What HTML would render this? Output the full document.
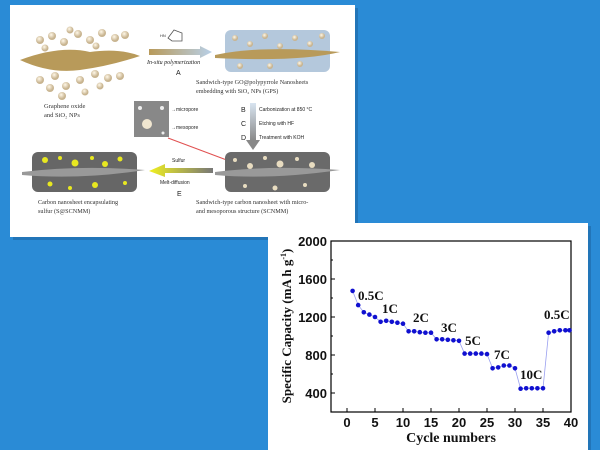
<!DOCTYPE html>
<html><head><meta charset="utf-8"><style>
body{margin:0;width:600px;height:450px;overflow:hidden;background:#2a8bd6}
svg{display:block}
</style></head><body>
<svg width="600" height="450" viewBox="0 0 600 450" xmlns="http://www.w3.org/2000/svg">
<defs>
<linearGradient id="ga" x1="0" x2="1"><stop offset="0" stop-color="#b89a5a"/><stop offset="1" stop-color="#b8d0e8"/></linearGradient>
<linearGradient id="gy" x1="1" x2="0"><stop offset="0" stop-color="#777"/><stop offset="1" stop-color="#f0f020"/></linearGradient>
<linearGradient id="gd" x1="0" y1="0" x2="0" y2="1"><stop offset="0" stop-color="#d8e4f0"/><stop offset="1" stop-color="#888"/></linearGradient>
<radialGradient id="sp" cx="0.4" cy="0.35"><stop offset="0" stop-color="#fff8e8"/><stop offset="1" stop-color="#c8b490"/></radialGradient>
</defs>
<rect x="13" y="8" width="345" height="232" fill="#1a5f99" opacity="0.5"/>
<rect x="10" y="5" width="345" height="232" fill="#fff"/>
<path d="M20 60 Q60 45 90 52 Q120 48 140 56 Q110 66 80 70 Q50 74 20 60Z" fill="#b89a5a"/>
<g fill="url(#sp)">
<circle cx="40" cy="40" r="4"/><circle cx="52" cy="36" r="4"/><circle cx="64" cy="42" r="4"/><circle cx="78" cy="34" r="4"/><circle cx="90" cy="40" r="4"/><circle cx="102" cy="33" r="4"/><circle cx="115" cy="38" r="4"/><circle cx="125" cy="35" r="4"/><circle cx="70" cy="30" r="3.5"/><circle cx="96" cy="46" r="3.5"/><circle cx="45" cy="48" r="3.5"/>
<circle cx="40" cy="80" r="4"/><circle cx="55" cy="76" r="4"/><circle cx="66" cy="86" r="4"/><circle cx="80" cy="80" r="4"/><circle cx="95" cy="74" r="4"/><circle cx="108" cy="78" r="4"/><circle cx="120" cy="76" r="4"/><circle cx="50" cy="88" r="4"/><circle cx="85" cy="92" r="3.5"/><circle cx="100" cy="86" r="3.5"/><circle cx="62" cy="96" r="4"/>
</g>
<text x="44" y="108" font-family="Liberation Serif" font-size="6.5" fill="#333">Graphene oxide</text>
<text x="44" y="117" font-family="Liberation Serif" font-size="6.5" fill="#333">and SiO₂ NPs</text>
<polygon points="149,49 200,49 200,46 212,52 200,58 200,55 149,55" fill="url(#ga)"/>
<path d="M168 38 l6-8 l8 3 l0 8 l-10 0z" fill="none" stroke="#555" stroke-width="0.8"/>
<text x="160" y="37" font-family="Liberation Sans" font-size="4" fill="#333">HN</text>
<text x="147" y="64" font-family="Liberation Serif" font-size="6" font-style="italic" fill="#222">In-situ polymerization</text>
<text x="176" y="75" font-family="Liberation Sans" font-size="7" fill="#222">A</text>
<rect x="225" y="30" width="105" height="42" rx="6" fill="#b4c8dc"/>
<path d="M215 55 Q260 45 340 52 Q300 62 215 58Z" fill="#b89a5a"/>
<g fill="url(#sp)"><circle cx="235" cy="38" r="3"/><circle cx="250" cy="44" r="3"/><circle cx="265" cy="36" r="3"/><circle cx="280" cy="46" r="3"/><circle cx="295" cy="38" r="3"/><circle cx="310" cy="44" r="3"/><circle cx="322" cy="36" r="3"/><circle cx="240" cy="66" r="3"/><circle cx="270" cy="66" r="3"/><circle cx="300" cy="64" r="3"/></g>
<text x="196" y="84" font-family="Liberation Serif" font-size="6.2" fill="#333">Sandwich-type GO@polypyrrole Nanosheets</text>
<text x="196" y="93" font-family="Liberation Serif" font-size="6.2" fill="#333">embedding with SiO₂ NPs (GPS)</text>
<rect x="250" y="103" width="6" height="38" fill="url(#gd)"/>
<polygon points="246,140 260,140 253,150" fill="#888"/>
<g font-family="Liberation Sans" fill="#222"><text x="241" y="112" font-size="7">B</text><text x="241" y="126" font-size="7">C</text><text x="241" y="140" font-size="7">D</text>
<text x="259" y="111" font-size="5">Carbonization at 850 °C</text><text x="259" y="125" font-size="5">Etching with HF</text><text x="259" y="139" font-size="5">Treatment with KOH</text></g>
<rect x="134" y="101" width="35" height="36" fill="#888"/>
<circle cx="147" cy="124" r="5" fill="#f0e6d0"/><circle cx="140" cy="108" r="2" fill="#eee"/><circle cx="162" cy="108" r="2" fill="#eee"/><circle cx="163" cy="133" r="1.5" fill="#eee"/>
<text x="171" y="111" font-family="Liberation Sans" font-size="5" fill="#222">→micropore</text>
<text x="171" y="129" font-family="Liberation Sans" font-size="5" fill="#222">→mesopore</text>
<line x1="168" y1="138" x2="240" y2="165" stroke="#e05050" stroke-width="1"/>
<rect x="240" y="158" width="17" height="17" fill="none" stroke="#e05050" stroke-width="0.8"/>
<rect x="32" y="152" width="105" height="40" rx="6" fill="#666"/>
<path d="M22 172 Q80 165 145 170 Q80 180 22 175Z" fill="#999"/>
<g fill="#e8e820"><circle cx="45" cy="160" r="3"/><circle cx="60" cy="158" r="2"/><circle cx="75" cy="163" r="3.5"/><circle cx="92" cy="158" r="2"/><circle cx="105" cy="164" r="3"/><circle cx="120" cy="159" r="2.5"/><circle cx="50" cy="184" r="2.5"/><circle cx="70" cy="188" r="2"/><circle cx="95" cy="185" r="3"/><circle cx="125" cy="183" r="2"/></g>
<text x="38" y="204" font-family="Liberation Serif" font-size="6.2" fill="#333">Carbon nanosheet encapsulating</text>
<text x="38" y="213" font-family="Liberation Serif" font-size="6.2" fill="#333">sulfur  (S@SCNMM)</text>
<polygon points="213,168 165,168 165,164 149,171 165,177 165,173 213,173" fill="url(#gy)"/>
<text x="172" y="162" font-family="Liberation Sans" font-size="5" fill="#222">Sulfur</text>
<text x="160" y="184" font-family="Liberation Sans" font-size="5" fill="#222">Melt-diffusion</text>
<text x="177" y="196" font-family="Liberation Sans" font-size="7" fill="#222">E</text>
<rect x="225" y="152" width="105" height="40" rx="6" fill="#6a6a6a"/>
<path d="M215 172 Q270 165 340 170 Q270 180 215 175Z" fill="#999"/>
<g fill="#e8dcc0"><circle cx="235" cy="160" r="2"/><circle cx="250" cy="166" r="3"/><circle cx="265" cy="158" r="2"/><circle cx="280" cy="164" r="3.5"/><circle cx="297" cy="159" r="2"/><circle cx="312" cy="165" r="3"/><circle cx="245" cy="186" r="2"/><circle cx="275" cy="188" r="2.5"/><circle cx="305" cy="185" r="2"/></g>
<text x="196" y="204" font-family="Liberation Serif" font-size="6.2" fill="#333">Sandwich-type carbon nanosheet with micro-</text>
<text x="196" y="213" font-family="Liberation Serif" font-size="6.2" fill="#333">and mesoporous structure (SCNMM)</text>

<rect x="271" y="226" width="320" height="230" fill="#1a5f99" opacity="0.5"/>
<rect x="268" y="223" width="320" height="230" fill="#fff"/>
<rect x="331" y="241" width="240" height="171" stroke="#000" stroke-width="1.2" fill="none"/>
<g stroke="#000" stroke-width="1">
<line x1="331" y1="279" x2="335" y2="279"/><line x1="331" y1="317" x2="335" y2="317"/><line x1="331" y1="355" x2="335" y2="355"/><line x1="331" y1="393" x2="335" y2="393"/>
<line x1="331" y1="260" x2="333" y2="260"/><line x1="331" y1="298" x2="333" y2="298"/><line x1="331" y1="336" x2="333" y2="336"/><line x1="331" y1="374" x2="333" y2="374"/>
<line x1="347" y1="412" x2="347" y2="408"/><line x1="375" y1="412" x2="375" y2="408"/><line x1="403" y1="412" x2="403" y2="408"/><line x1="431" y1="412" x2="431" y2="408"/><line x1="459" y1="412" x2="459" y2="408"/><line x1="487" y1="412" x2="487" y2="408"/><line x1="515" y1="412" x2="515" y2="408"/><line x1="543" y1="412" x2="543" y2="408"/>
</g>
<g font-family="Liberation Sans" font-weight="bold" font-size="13" fill="#111" text-anchor="end">
<text x="327" y="246">2000</text><text x="327" y="284">1600</text><text x="327" y="322">1200</text><text x="327" y="360">800</text><text x="327" y="398">400</text>
</g>
<g font-family="Liberation Sans" font-weight="bold" font-size="13" fill="#111" text-anchor="middle">
<text x="347" y="427">0</text><text x="375" y="427">5</text><text x="403" y="427">10</text><text x="431" y="427">15</text><text x="459" y="427">20</text><text x="487" y="427">25</text><text x="515" y="427">30</text><text x="543" y="427">35</text><text x="571" y="427">40</text>
</g>
<text x="451" y="442" font-family="Liberation Serif" font-weight="bold" font-size="14" fill="#111" text-anchor="middle">Cycle numbers</text>
<text transform="translate(291,326) rotate(-90)" font-family="Liberation Serif" font-weight="bold" font-size="13" fill="#111" text-anchor="middle">Specific Capacity (mA h g<tspan font-size="8" dy="-5">-1</tspan><tspan dy="5">)</tspan></text>
<polyline fill="none" stroke="#9aa0f0" stroke-width="0.8" points="352.6,290.9 358.2,305.1 363.8,312.3 369.4,314.6 375,317 380.6,321.8 386.2,320.8 391.8,321.8 397.4,322.7 403,323.7 408.6,331.3 414.2,331.3 419.8,332.2 425.4,332.7 431,332.7 436.6,339.3 442.2,339.3 447.8,339.8 453.4,340.3 459,340.8 464.6,353.6 470.2,353.6 475.8,353.6 481.4,353.6 487,354.1 492.6,368.3 498.2,367.4 503.8,365.5 509.4,365.5 515,368.3 520.6,388.7 526.2,388.3 531.8,388.3 537.4,388.3 543,388.3 548.6,332.7 554.2,331.3 559.8,330.3 565.4,330.3 571,330.3"/>
<g fill="#1010d0">
<circle cx="352.6" cy="290.9" r="2.3"/><circle cx="358.2" cy="305.1" r="2.3"/><circle cx="363.8" cy="312.3" r="2.3"/><circle cx="369.4" cy="314.6" r="2.3"/><circle cx="375" cy="317" r="2.3"/><circle cx="380.6" cy="321.8" r="2.3"/><circle cx="386.2" cy="320.8" r="2.3"/><circle cx="391.8" cy="321.8" r="2.3"/><circle cx="397.4" cy="322.7" r="2.3"/><circle cx="403" cy="323.7" r="2.3"/><circle cx="408.6" cy="331.3" r="2.3"/><circle cx="414.2" cy="331.3" r="2.3"/><circle cx="419.8" cy="332.2" r="2.3"/><circle cx="425.4" cy="332.7" r="2.3"/><circle cx="431" cy="332.7" r="2.3"/><circle cx="436.6" cy="339.3" r="2.3"/><circle cx="442.2" cy="339.3" r="2.3"/><circle cx="447.8" cy="339.8" r="2.3"/><circle cx="453.4" cy="340.3" r="2.3"/><circle cx="459" cy="340.8" r="2.3"/><circle cx="464.6" cy="353.6" r="2.3"/><circle cx="470.2" cy="353.6" r="2.3"/><circle cx="475.8" cy="353.6" r="2.3"/><circle cx="481.4" cy="353.6" r="2.3"/><circle cx="487" cy="354.1" r="2.3"/><circle cx="492.6" cy="368.3" r="2.3"/><circle cx="498.2" cy="367.4" r="2.3"/><circle cx="503.8" cy="365.5" r="2.3"/><circle cx="509.4" cy="365.5" r="2.3"/><circle cx="515" cy="368.3" r="2.3"/><circle cx="520.6" cy="388.7" r="2.3"/><circle cx="526.2" cy="388.3" r="2.3"/><circle cx="531.8" cy="388.3" r="2.3"/><circle cx="537.4" cy="388.3" r="2.3"/><circle cx="543" cy="388.3" r="2.3"/><circle cx="548.6" cy="332.7" r="2.3"/><circle cx="554.2" cy="331.3" r="2.3"/><circle cx="559.8" cy="330.3" r="2.3"/><circle cx="565.4" cy="330.3" r="2.3"/><circle cx="569.5" cy="330.3" r="2.3"/>
</g>
<g font-family="Liberation Serif" font-weight="bold" font-size="13" fill="#111">
<text x="358" y="300">0.5C</text><text x="382" y="313">1C</text><text x="413" y="322">2C</text><text x="441" y="332">3C</text><text x="465" y="345">5C</text><text x="494" y="359">7C</text><text x="520" y="379">10C</text><text x="544" y="319">0.5C</text>
</g>
</svg>
</body></html>
